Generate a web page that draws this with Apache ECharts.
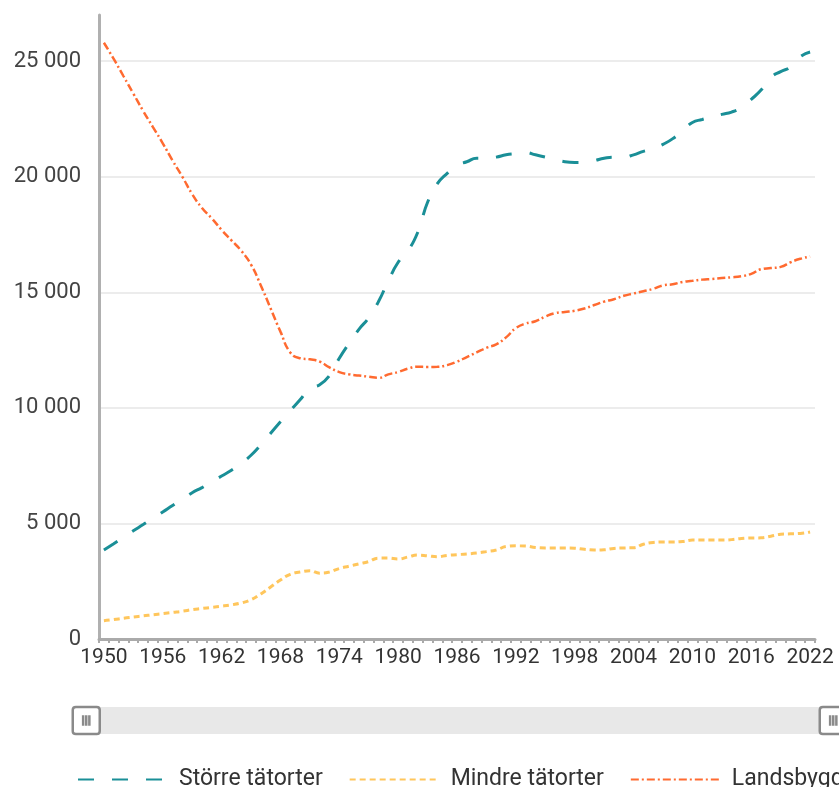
<!DOCTYPE html>
<html>
<head>
<meta charset="utf-8">
<script src="https://cdn.jsdelivr.net/npm/echarts@6/dist/echarts.min.js"></script>
<style>html,body{margin:0;padding:0;background:#fff}#c{width:839px;height:787px}</style>
</head>
<body>
<div id="c"></div>
<script>
const years = [];
for (let y = 1950; y <= 2022; y++) years.push(String(y));

const storre = [3850,4120,4400,4680,4950,5230,5500,5780,6050,6330,
  6550,6800,7050,7300,7600,7950,8400,8900,9400,9880,
  10350,10850,11000,11400,12150,12800,13400,13900,14600,15500,
  16300,16800,17600,18900,19700,20150,20500,20650,20800,20800,
  20850,20950,21000,21050,20950,20850,20750,20650,20620,20620,
  20700,20800,20850,20850,20950,21100,21200,21400,21650,22000,
  22350,22480,22600,22700,22800,23000,23350,23750,24300,24550,
  24750,25200,25400];

const mindre = [790,840,900,950,1000,1050,1100,1150,1200,1270,
  1320,1370,1420,1480,1560,1700,1950,2250,2550,2800,
  2900,2950,2850,2900,3050,3150,3250,3350,3500,3500,
  3460,3550,3630,3600,3560,3620,3650,3680,3720,3780,
  3850,4000,4030,4020,3960,3940,3940,3940,3930,3880,
  3850,3860,3920,3940,3950,4100,4180,4200,4200,4220,
  4280,4280,4280,4280,4300,4350,4370,4380,4450,4530,
  4550,4570,4630];

const landsbygd = [25800,25100,24350,23600,22850,22150,21450,20700,20000,19250,
  18650,18200,17700,17250,16800,16200,15300,14300,13300,12400,
  12150,12100,12000,11750,11550,11450,11400,11350,11300,11450,
  11550,11700,11780,11770,11780,11850,12000,12200,12400,12600,
  12750,13050,13450,13650,13750,13950,14100,14150,14200,14300,
  14450,14600,14700,14850,14950,15050,15150,15300,15350,15450,
  15500,15550,15580,15620,15650,15700,15800,16000,16050,16100,
  16300,16450,16550];

const seriesNames = ['Större tätorter', 'Mindre tätorter', 'Landsbygd'];

const FONT = 'Roboto';
const chart = echarts.init(document.getElementById('c'), null, {renderer: 'canvas'});
const fmt = v => String(v).replace(/\B(?=(\d{3})+(?!\d))/g, ' ');

chart.setOption({
  animation: false,
  textStyle: {fontFamily: FONT},
  grid: {left: 99, right: 24, top: 15, bottom: 148, containLabel: false},
  xAxis: {
    type: 'category',
    data: years,
    boundaryGap: true,
    axisLine: {lineStyle: {color: '#aaaaaa', width: 3}},
    axisTick: {show: true, interval: 0, length: 4, lineStyle: {color: '#aaaaaa', width: 2}},
    axisLabel: {interval: 5, color: '#333', fontSize: 21, fontFamily: FONT, margin: 8},
    splitLine: {show: false}
  },
  yAxis: {
    type: 'value',
    min: 0, max: 27000, interval: 5000,
    axisLine: {show: true, lineStyle: {color: '#b0b0b0', width: 3}},
    axisTick: {show: false},
    axisLabel: {showMaxLabel: false, color: '#444', fontSize: 22, fontFamily: FONT, margin: 18,
      formatter: v => v % 5000 === 0 ? fmt(v) : ''},
    splitLine: {show: true, showMaxLine: false, lineStyle: {color: '#ececec', width: 2}}
  },
  dataZoom: [{
    type: 'slider',
    xAxisIndex: 0,
    start: 0, end: 100,
    left: 83, right: 7, top: 707, height: 27,
    backgroundColor: '#e8e8e8',
    fillerColor: 'rgba(0,0,0,0)',
    borderColor: 'transparent',
    showDataShadow: false,
    showDetail: false,
    brushSelect: false,
    moveHandleSize: 0,
    handleIcon: 'path://M4,1 H24 Q27,1 27,4 V24 Q27,27 24,27 H4 Q1,27 1,24 V4 Q1,1 4,1 Z M11,9 V19 M14,9 V19 M17,9 V19',
    handleSize: '100%',
    handleStyle: {color: '#fff', borderColor: '#8a8a8a', borderWidth: 2.5}
  }],
  legend: {
    left: 72, top: 763, width: 1000,
    orient: 'horizontal',
    itemWidth: 90, itemHeight: 14, itemGap: 26,
    itemStyle: {opacity: 0},
    textStyle: {color: '#333', fontSize: 23, fontFamily: FONT, padding: [0, 0, 0, 6]},
    data: seriesNames
  },
  series: [
    {name: seriesNames[0], type: 'line', data: storre, smooth: true, symbol: 'none',
      lineStyle: {color: '#1a8f97', width: 3, type: [16, 18]}, itemStyle: {color: '#1a8f97'}},
    {name: seriesNames[1], type: 'line', data: mindre, smooth: true, symbol: 'none',
      lineStyle: {color: '#ffc65c', width: 3, type: [6, 4]}, itemStyle: {color: '#ffc65c'}},
    {name: seriesNames[2], type: 'line', data: landsbygd, smooth: true, symbol: 'none',
      lineStyle: {color: '#ff6a30', width: 2.5, type: [8, 3, 2, 3]}, itemStyle: {color: '#ff6a30'}}
  ]
});
</script>
</body>
</html>
